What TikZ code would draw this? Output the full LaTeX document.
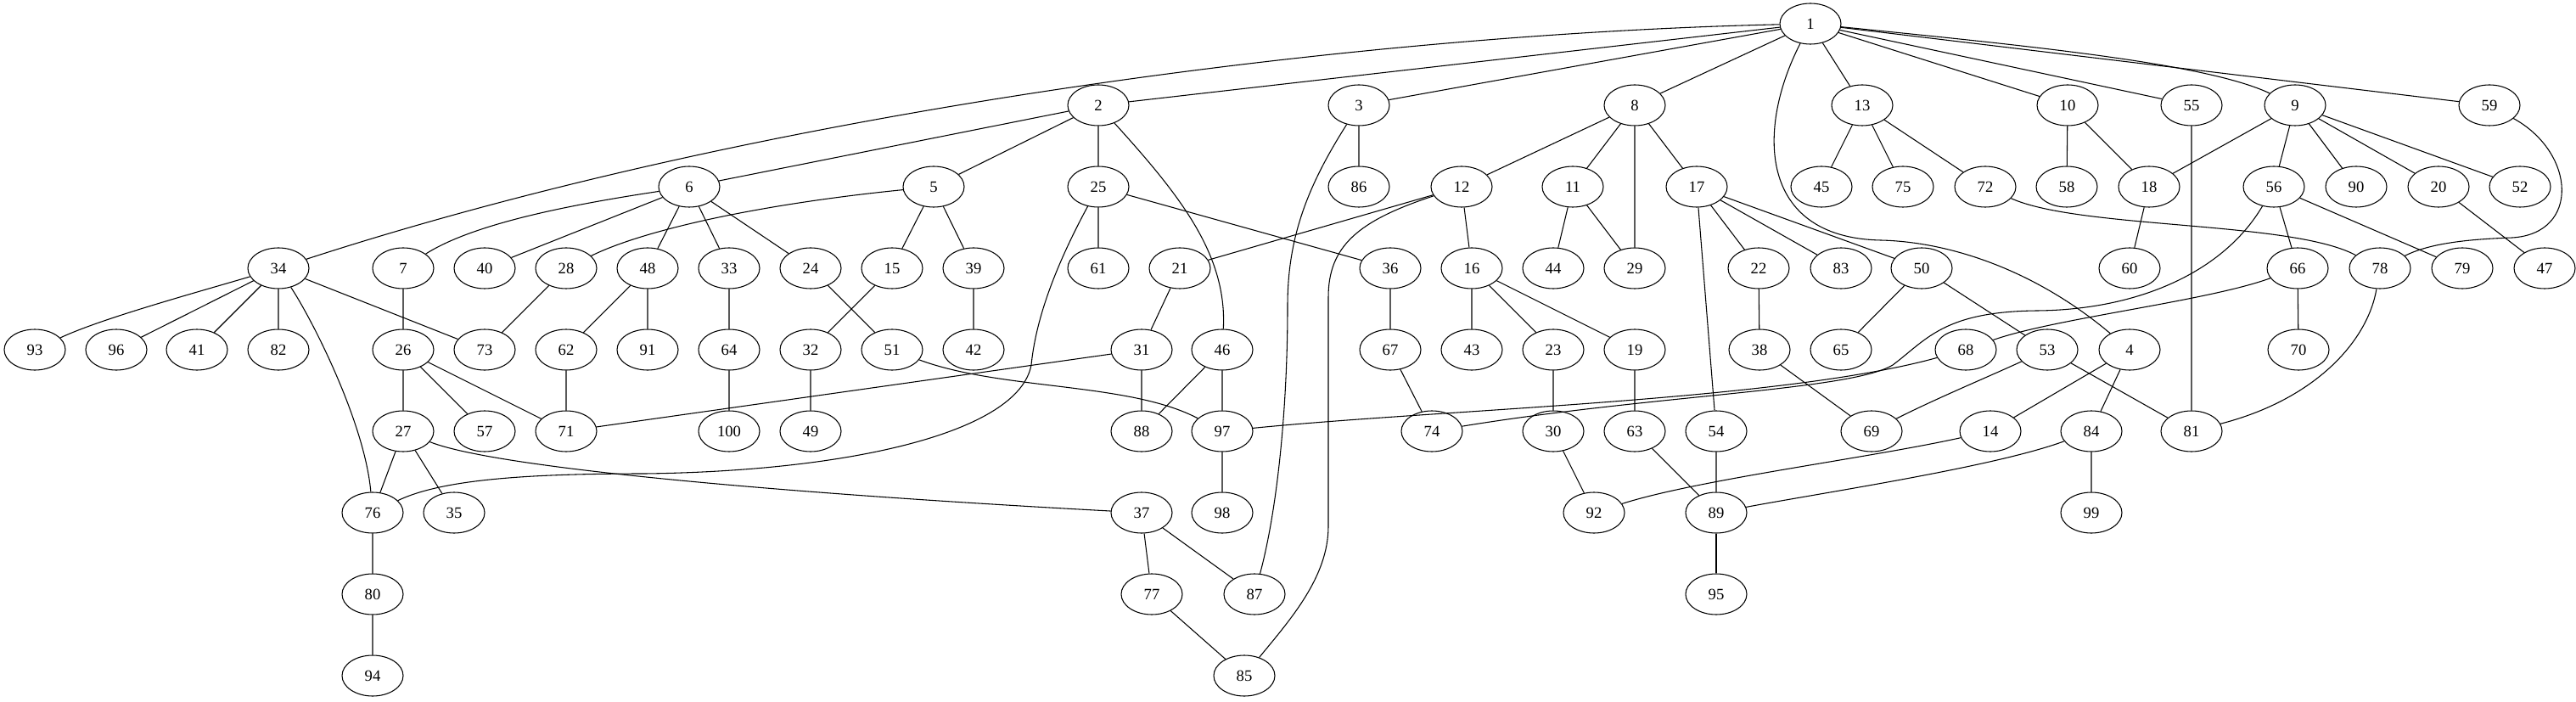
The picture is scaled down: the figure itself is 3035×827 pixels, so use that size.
\documentclass[tikz,border=0pt]{standalone}
\usepackage{fontspec}
\setmainfont{Liberation Serif}
\usepackage{tikz}
\usetikzlibrary{shapes.geometric}
\tikzset{%
	vertex/.style = {draw, ellipse, minimum width=54pt, minimum height=36pt, inner sep=0pt, font=\fontsize{14}{16}\selectfont},
	link/.style   = {line width=0.8pt},
}

\begin{document}
\begin{tikzpicture}[x=0.75pt,y=-0.75pt,line width=0.8pt]
	\useasboundingbox (0,0) rectangle (3035,827);
	
	% nodes, one row per rank
	\node[vertex] (n1) at (2133,28) {1};
	\foreach \n/\x in {2/1294,3/1601,8/1926,13/2194,10/2436,55/2582,9/2704,59/2933}
		\node[vertex] (n\n) at (\x,124) {\n};
	\foreach \n/\x in {6/812,5/1100,25/1294,86/1601,12/1722,11/1853,17/1999,45/2146,75/2242,72/2339,58/2435,18/2532,56/2679,90/2776,20/2873,52/2969}
		\node[vertex] (n\n) at (\x,220) {\n};
	\foreach \n/\x in {34/328,7/475,40/571,28/667,48/763,33/859,24/955,15/1051,39/1147,61/1294,21/1390,36/1638,16/1734,44/1830,29/1926,22/2072,83/2169,50/2264,60/2509,66/2707,78/2804,79/2901,47/2998}
		\node[vertex] (n\n) at (\x,316) {\n};
	\foreach \n/\x in {93/41,96/137,41/232,82/328,26/475,73/571,62/667,91/763,64/859,32/955,51/1051,42/1147,31/1345,46/1440,67/1638,43/1734,23/1830,19/1926,38/2073,65/2169,68/2316,53/2412,4/2509,70/2708}
		\node[vertex] (n\n) at (\x,412) {\n};
	\foreach \n/\x in {27/475,57/571,71/667,100/859,49/955,88/1345,97/1440,74/1687,30/1830,63/1926,54/2022,69/2205,14/2345,84/2464,81/2582}
		\node[vertex] (n\n) at (\x,508) {\n};
	\foreach \n/\x in {76/439,35/535,37/1345,98/1440,92/1878,89/2022,99/2464}
		\node[vertex] (n\n) at (\x,604) {\n};
	\foreach \n/\x in {80/439,77/1357,87/1478,95/2022}
		\node[vertex] (n\n) at (\x,700) {\n};
	\foreach \n/\x in {94/439,85/1466}
		\node[vertex] (n\n) at (\x,796) {\n};
	
	% straight edges
	\draw[link] (n1) -- (n2) (n1) -- (n3) (n1) -- (n8) (n1) -- (n13) (n1) -- (n10) (n1) -- (n55) (n1) -- (n59);
	\draw[link] (n2) -- (n6) (n2) -- (n5) (n2) -- (n25) (n3) -- (n86) (n4) -- (n14) (n4) -- (n84);
	\draw[link] (n5) -- (n15) (n5) -- (n39) (n6) -- (n40) (n6) -- (n48) (n6) -- (n33) (n6) -- (n24) (n7) -- (n26);
	\draw[link] (n8) -- (n12) (n8) -- (n11) (n8) -- (n29) (n8) -- (n17);
	\draw[link] (n9) -- (n18) (n9) -- (n56) (n9) -- (n90) (n9) -- (n20) (n9) -- (n52);
	\draw[link] (n10) -- (n58) (n10) -- (n18) (n11) -- (n44) (n11) -- (n29) (n12) -- (n21) (n12) -- (n16);
	\draw[link] (n13) -- (n45) (n13) -- (n75) (n13) -- (n72) (n15) -- (n32) (n16) -- (n43) (n16) -- (n23) (n16) -- (n19);
	\draw[link] (n17) -- (n22) (n17) -- (n83) (n17) -- (n50) (n17) -- (n54) (n18) -- (n60) (n19) -- (n63) (n20) -- (n47);
	\draw[link] (n21) -- (n31) (n22) -- (n38) (n23) -- (n30) (n24) -- (n51) (n25) -- (n61) (n25) -- (n36);
	\draw[link] (n26) -- (n27) (n26) -- (n57) (n26) -- (n71) (n27) -- (n76) (n27) -- (n35) (n28) -- (n73) (n30) -- (n92);
	\draw[link] (n31) -- (n88) (n31) -- (n71) (n32) -- (n49) (n33) -- (n64) (n36) -- (n67) (n37) -- (n77) (n37) -- (n87);
	\draw[link] (n34) -- (n96) (n34) -- (n41) (n34) -- (n82) (n34) -- (n73) (n38) -- (n69) (n39) -- (n42);
	\draw[link] (n46) -- (n88) (n46) -- (n97) (n48) -- (n62) (n48) -- (n91) (n50) -- (n65) (n50) -- (n53) (n53) -- (n81);
	\draw[link] (n54) -- (n89) (n55) -- (n81) (n56) -- (n66) (n56) -- (n79) (n62) -- (n71) (n63) -- (n89) (n64) -- (n100);
	\draw[link] (n66) -- (n70) (n67) -- (n74) (n76) -- (n80) (n77) -- (n85) (n80) -- (n94) (n84) -- (n99) (n97) -- (n98);
	\draw[link] (n89) -- (n95);
	
	% curved edges
	\draw[link] (n1) .. controls (1600,40) and (900,130) .. (n34);
	\draw[link] (n1) .. controls (2400,55) and (2600,75) .. (n9);
	\draw[link] (n1) .. controls (2070,150) and (2070,280) .. (2216,283) .. controls (2300,285) and (2400,320) .. (n4);
	\draw[link] (n2) .. controls (1390,230) and (1446,300) .. (n46);
	\draw[link] (n3) .. controls (1540,220) and (1517,280) .. (1517,360) .. controls (1517,480) and (1505,600) .. (n87);
	\draw[link] (n5) .. controls (900,240) and (760,270) .. (n28);
	\draw[link] (n6) .. controls (680,240) and (560,262) .. (n7);
	\draw[link] (n12) .. controls (1600,260) and (1565,290) .. (1565,350) -- (1565,620) .. controls (1565,680) and (1520,730) .. (n85);
	\draw[link] (n25) .. controls (1240,320) and (1220,380) .. (1215,430) .. controls (1200,510) and (1000,555) .. (760,558) .. controls (620,558) and (520,565) .. (n76);
	\draw[link] (n27) .. controls (580,550) and (900,580) .. (n37);
	\draw[link] (n34) .. controls (230,345) and (120,375) .. (n93);
	\draw[link] (n34) .. controls (370,380) and (430,500) .. (n76);
	\draw[link] (n51) .. controls (1180,460) and (1330,450) .. (n97);
	\draw[link] (n56) .. controls (2620,320) and (2520,365) .. (2400,366) .. controls (2290,367) and (2270,400) .. (2230,430) .. controls (2180,460) and (1950,465) .. (n74);
	\draw[link] (n97) .. controls (1700,482) and (2100,472) .. (n68);
	\draw[link] (n66) .. controls (2600,355) and (2420,375) .. (n68);
	\draw[link] (n72) .. controls (2450,270) and (2700,260) .. (n78);
	\draw[link] (n59) .. controls (3035,180) and (3040,275) .. (2960,280) .. controls (2900,282) and (2860,288) .. (n78);
	\draw[link] (n78) .. controls (2790,400) and (2730,470) .. (n81);
	\draw[link] (n14) .. controls (2200,540) and (2000,565) .. (n92);
	\draw[link] (n84) .. controls (2350,550) and (2150,580) .. (n89);
	\draw[link] (n53) .. controls (2340,445) and (2280,470) .. (n69);
\end{tikzpicture}
\end{document}
